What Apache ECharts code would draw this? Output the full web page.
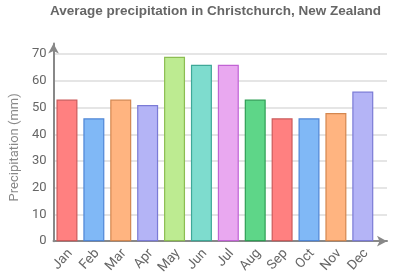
<!DOCTYPE html>
<html>
<head>
<meta charset="utf-8">
<script src="https://cdn.jsdelivr.net/npm/echarts@6/dist/echarts.min.js"></script>
<style>html,body{margin:0;padding:0;background:#fff;}#c{width:405px;height:277px;}</style>
</head>
<body>
<div id="c"></div>
<script>
const months = ['Jan','Feb','Mar','Apr','May','Jun','Jul','Aug','Sep','Oct','Nov','Dec'];
const precipitation = [53,46,53,51,69,66,66,53,46,46,48,56];
const yTicks = [0,10,20,30,40,50,60,70];

const fillPalette = ['#ff8080','#80b8f6','#ffb480','#b4b4f6','#bdeb91','#7edcce','#e9a8f0','#5ed688'];
const borderPalette = ['#cc5a5a','#4f86d6','#d4874f','#7b7bd6','#8cbd52','#3fa898','#c163d4','#2f9f55'];

const chart = echarts.init(document.getElementById('c'), null, {renderer:'canvas'});
const font = 'Roboto, "Liberation Sans", Arial, sans-serif';
chart.setOption({
  animation:false,
  backgroundColor:'#ffffff',
  title:{
    text:'Average precipitation in Christchurch, New Zealand',
    left:45, top:-1,
    textStyle:{fontFamily:'"Liberation Sans", Arial, sans-serif', fontWeight:'bold', fontSize:13.5, color:'#666'}
  },
  grid:{left:51.5, right:18, top:43.5, bottom:33.2, containLabel:false},
  xAxis:{
    type:'value', min:-0.5, max:11.9,
    axisLine:{show:true, onZero:false, lineStyle:{color:'#888', width:2}, symbol:['none','arrow'], symbolSize:[8,10]},
    axisTick:{show:false},
    splitLine:{show:false},
    axisLabel:{
      customValues: months.map((m,i)=>i+0.12),
      formatter: v => months[Math.round(v)] || '',
      rotate:48, margin:10, fontSize:13.5, color:'#666', fontFamily:font
    }
  },
  yAxis:{
    type:'value', min:0, max:74, interval:10,
    name:'Precipitation (mm)', nameLocation:'middle', nameGap:21,
    nameTextStyle:{fontSize:13, color:'#888', fontFamily:font, padding:[0,10,0,0]},
    axisLine:{show:true, onZero:false, lineStyle:{color:'#888', width:2}, symbol:['none','arrow'], symbolSize:[8,10]},
    axisTick:{show:false},
    splitLine:{show:true, showMaxLine:false, lineStyle:{color:'#dddddd', width:1.5}},
    axisLabel:{showMaxLabel:false, fontSize:13, color:'#666', margin:7, fontFamily:font,
      formatter: v => yTicks.includes(v) ? String(v) : ''}
  },
  series:[{
    type:'bar',
    barWidth:21,
    data: precipitation.map((v,i)=>({
      value:[i,v],
      itemStyle:{color:fillPalette[i%8], borderColor:borderPalette[i%8], borderWidth:1.2}
    }))
  }]
});
</script>
</body>
</html>
